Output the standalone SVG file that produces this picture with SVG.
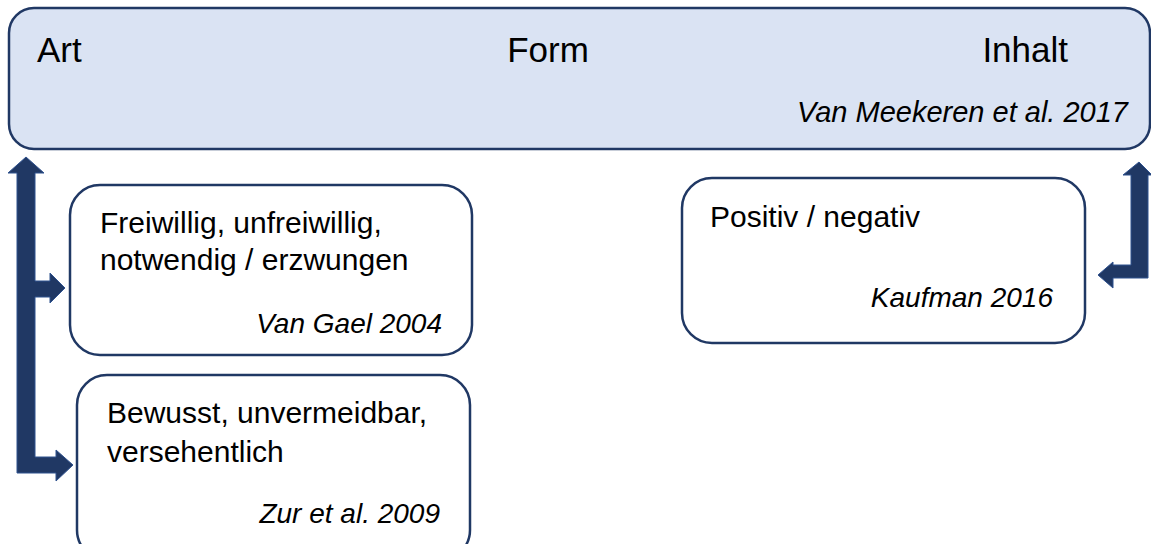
<svg xmlns="http://www.w3.org/2000/svg" width="1151" height="544" viewBox="0 0 1151 544">
<style>
.box{fill:#ffffff;stroke:#203864;stroke-width:2.5}
.top{fill:#DAE3F3;stroke:#203864;stroke-width:2.5}
.arrow{fill:#203864;stroke:#2F528F;stroke-width:1}
text{font-family:"Liberation Sans",Arial,sans-serif;fill:#000000}
.lbl{font-size:35px}
.t{font-size:30px}
.cite{font-size:28px;font-style:italic}
</style>
<rect width="1151" height="544" fill="#ffffff"/>
<g id="connectors">
<polygon class="arrow" points="26,157 44,173 35,173 35,281 50,281 50,273 65,288 50,303 50,297 35,297 35,457 56,457 56,450 73,465 56,481 56,473 17,473 17,173 8,173"/>
<polygon class="arrow" points="1139,162 1152,175 1148,175 1148,278 1113,278 1113,288 1098,275 1113,262 1113,265 1131,265 1131,175 1123,175"/>
</g>
<g id="top">
<rect class="top" x="9" y="8" width="1141" height="141" rx="25" ry="25"/>
<text class="lbl" x="37" y="62">Art</text>
<text class="lbl" x="548" y="62" text-anchor="middle">Form</text>
<text class="lbl" x="1068" y="62" text-anchor="end">Inhalt</text>
<text class="cite" x="1128" y="122" text-anchor="end" style="font-size:29px">Van Meekeren et al. 2017</text>
</g>
<g id="node1">
<rect class="box" x="70" y="185" width="402" height="170" rx="30" ry="30"/>
<text class="t" x="100" y="233">Freiwillig, unfreiwillig,</text>
<text class="t" x="100" y="270">notwendig / erzwungen</text>
<text class="cite" x="442" y="333" text-anchor="end">Van Gael 2004</text>
</g>
<g id="node2">
<rect class="box" x="77" y="375" width="393" height="185" rx="30" ry="30"/>
<text class="t" x="107" y="423">Bewusst, unvermeidbar,</text>
<text class="t" x="107" y="462">versehentlich</text>
<text class="cite" x="440" y="523" text-anchor="end">Zur et al. 2009</text>
</g>
<g id="node3">
<rect class="box" x="682" y="178" width="403" height="165" rx="30" ry="30"/>
<text class="t" x="710" y="227">Positiv / negativ</text>
<text class="cite" x="1053" y="307" text-anchor="end">Kaufman 2016</text>
</g>
</svg>
